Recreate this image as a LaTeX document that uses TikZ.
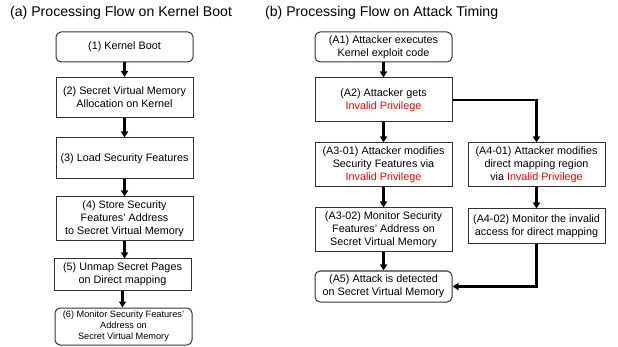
\documentclass[tikz,border=0pt]{standalone}
\usepackage{fontspec}
\setmainfont{Liberation Sans}
\usetikzlibrary{arrows.meta}

\begin{document}
\begin{tikzpicture}[x=1pt, y=-1pt,
    flowbox/.style={draw=black!80, line width=1pt, align=center, inner sep=1pt,
      minimum width=137pt, font=\fontsize{10.8}{13}\selectfont},
    roundbox/.style={flowbox, rounded corners=5pt},
    flowarrow/.style={line width=2.2pt, -{Triangle[length=6pt, width=7pt]}},
    title/.style={anchor=west, inner sep=0pt, font=\fontsize{14.1}{16}\selectfont}]
  \useasboundingbox (0, 0) rectangle (618, 347);
  % titles
  \node[title] (ta) at (10, 13) {(a) Processing Flow on Kernel Boot};
  \node[title] (tb) at (265, 13) {(b) Processing Flow on Attack Timing};
  % (a) kernel boot
  \node[roundbox, minimum height=30pt] (b1) at (124.5, 47) {(1) Kernel Boot};
  \node[flowbox, minimum height=40pt] (b2) at (124.5, 97.5) {(2) Secret Virtual Memory\\Allocation on Kernel};
  \node[flowbox, minimum height=41pt] (b3) at (124.5, 158.5) {(3) Load Security Features};
  \node[flowbox, minimum height=44pt] (b4) at (124.5, 219) {(4) Store Security\\Features' Address\\to Secret Virtual Memory};
  \node[flowbox, minimum height=31pt] (b5) at (122.5, 274.5) {(5) Unmap Secret Pages\\on Direct mapping};
  \node[roundbox, minimum height=37pt, font=\fontsize{9.2}{11}\selectfont] (b6) at (123.5, 326.5)
    {(6) Monitor Security Features'\\Address on\\Secret Virtual Memory};
  \draw[flowarrow] (b1) -- (b2);
  \draw[flowarrow] (b2) -- (b3);
  \draw[flowarrow] (b3) -- (b4);
  \draw[flowarrow] (b4.south) -- (b4.south |- b5.north);
  \draw[flowarrow] (b5.south) -- (b5.south |- b6.north);
  % (b) attack timing
  \node[roundbox, minimum height=30pt] (a1) at (383.5, 47) {(A1) Attacker executes\\Kernel exploit code};
  \node[flowbox, minimum height=44pt] (a2) at (383.5, 100) {(A2) Attacker gets\\\textcolor{red}{Invalid Privilege}};
  \node[flowbox, minimum height=44pt] (a301) at (383.5, 165) {(A3-01) Attacker modifies\\Security Features via\\\textcolor{red}{Invalid Privilege}};
  \node[flowbox, minimum height=44pt] (a401) at (536.5, 165) {(A4-01) Attacker modifies\\direct mapping region\\via \textcolor{red}{Invalid Privilege}};
  \node[flowbox, minimum height=44pt] (a302) at (383.5, 230) {(A3-02) Monitor Security\\Features' Address on\\Secret Virtual Memory};
  \node[flowbox, minimum height=35pt] (a402) at (536.5, 226.5) {(A4-02) Monitor the invalid\\access for direct mapping};
  \node[roundbox, minimum height=31pt] (a5) at (383.5, 286.5) {(A5) Attack is detected\\on Secret Virtual Memory};
  \draw[flowarrow] (a1) -- (a2);
  \draw[flowarrow] (a2) -- (a301);
  \draw[flowarrow] (a2.east) -| (a401.north);
  \draw[flowarrow] (a301) -- (a302);
  \draw[flowarrow] (a401) -- (a402);
  \draw[flowarrow] (a302) -- (a5);
  \draw[flowarrow] (a402.south) |- (a5.east);
\end{tikzpicture}
\end{document}
